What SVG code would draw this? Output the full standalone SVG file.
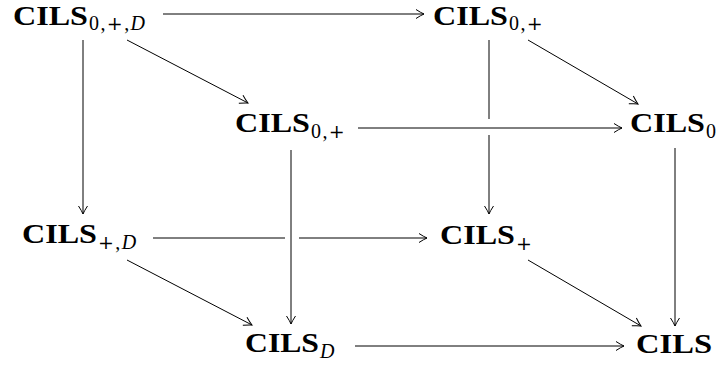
<svg xmlns="http://www.w3.org/2000/svg" width="720" height="367" viewBox="0 0 720 367">
<style>
.m{font-family:"Liberation Serif","Times New Roman",serif;font-weight:bold;font-size:28px;fill:#000}
.s{font-family:"Liberation Serif","Times New Roman",serif;font-weight:normal;font-size:20px;letter-spacing:1.4px}
.p{font-family:"DejaVu Serif","Liberation Serif",serif;font-size:19px}
.i{font-style:italic}
.c line{stroke:#000;stroke-width:1;fill:none}
</style>
<defs>
<marker id="ah" markerUnits="userSpaceOnUse" viewBox="-9 -6 11 12" refX="0" refY="0" markerWidth="11" markerHeight="12" orient="auto">
<path d="M-8,-4.5 Q-3,-1.2 0,0 Q-3,1.2 -8,4.5" fill="none" stroke="#000" stroke-width="1"/>
</marker>
</defs>
<rect width="720" height="367" fill="#fff"/>
<g class="c">
<line x1="163" y1="14" x2="424" y2="14" marker-end="url(#ah)"/>
<line x1="127" y1="40" x2="248" y2="103" marker-end="url(#ah)"/>
<line x1="83" y1="40" x2="83" y2="214" marker-end="url(#ah)"/>
<line x1="528" y1="40" x2="638" y2="104" marker-end="url(#ah)"/>
<line x1="489" y1="40" x2="489" y2="119"/>
<line x1="489" y1="135" x2="489" y2="214" marker-end="url(#ah)"/>
<line x1="358" y1="128" x2="622" y2="128" marker-end="url(#ah)"/>
<line x1="291" y1="150" x2="291" y2="324" marker-end="url(#ah)"/>
<line x1="675" y1="148" x2="675" y2="326" marker-end="url(#ah)"/>
<line x1="153" y1="238" x2="285" y2="238"/>
<line x1="299" y1="238" x2="427" y2="238" marker-end="url(#ah)"/>
<line x1="127" y1="260" x2="252" y2="325" marker-end="url(#ah)"/>
<line x1="528" y1="260" x2="641" y2="326" marker-end="url(#ah)"/>
<line x1="355" y1="346" x2="624" y2="346" marker-end="url(#ah)"/>
</g>
<g id="n0pD"><text class="m" x="13" y="25"><tspan textLength="75" lengthAdjust="spacingAndGlyphs">CILS</tspan><tspan class="s" x="89" y="30">0,<tspan class="p">+</tspan>,<tspan class="i">D</tspan></tspan></text></g>
<g id="n0pTop"><text class="m" x="433" y="25"><tspan textLength="75" lengthAdjust="spacingAndGlyphs">CILS</tspan><tspan class="s" x="509" y="30">0,<tspan class="p">+</tspan></tspan></text></g>
<g id="n0pMid"><text class="m" x="235" y="132"><tspan textLength="75" lengthAdjust="spacingAndGlyphs">CILS</tspan><tspan class="s" x="311" y="138">0,<tspan class="p">+</tspan></tspan></text></g>
<g id="n0"><text class="m" x="630" y="132"><tspan textLength="75" lengthAdjust="spacingAndGlyphs">CILS</tspan><tspan class="s" x="706" y="138">0</tspan></text></g>
<g id="npD"><text class="m" x="22" y="243"><tspan textLength="75" lengthAdjust="spacingAndGlyphs">CILS</tspan><tspan class="s" x="98" y="249"><tspan class="p">+</tspan>,<tspan class="i">D</tspan></tspan></text></g>
<g id="np"><text class="m" x="440" y="244"><tspan textLength="75" lengthAdjust="spacingAndGlyphs">CILS</tspan><tspan class="s p" x="516" y="250">+</tspan></text></g>
<g id="nD"><text class="m" x="245" y="352"><tspan textLength="74" lengthAdjust="spacingAndGlyphs">CILS</tspan><tspan class="s" x="320" y="358"><tspan class="i">D</tspan></tspan></text></g>
<g id="n"><text class="m" x="636" y="353"><tspan textLength="76" lengthAdjust="spacingAndGlyphs">CILS</tspan></text></g>
</svg>
